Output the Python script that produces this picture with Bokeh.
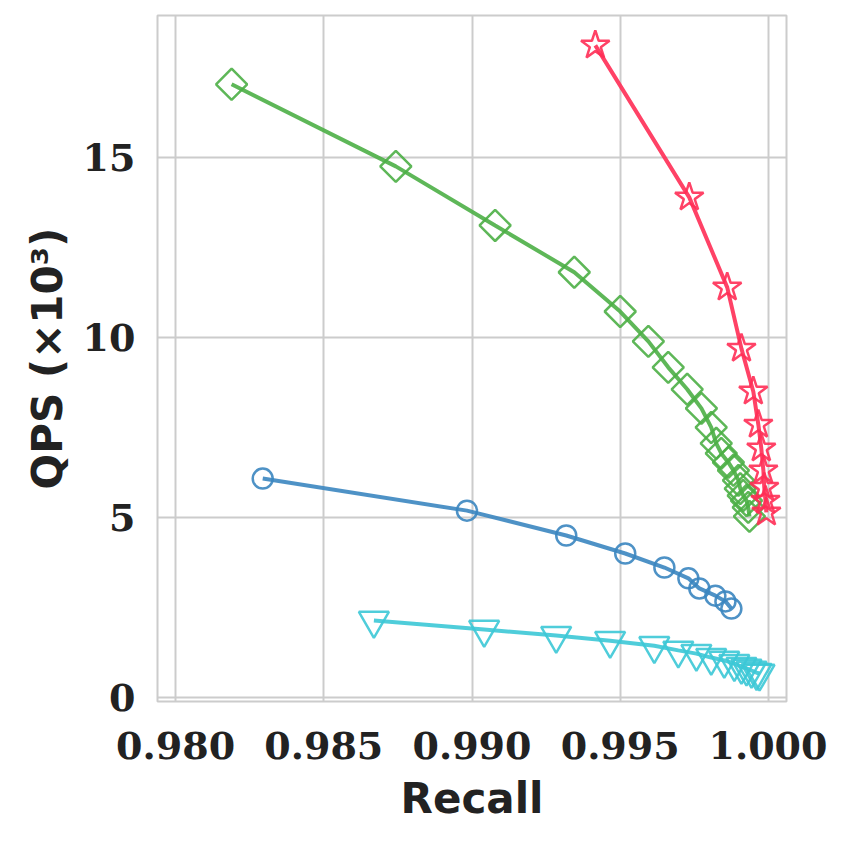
from bokeh.plotting import figure
from bokeh.models import FixedTicker, NumeralTickFormatter
from bokeh.embed import file_html
from bokeh.resources import INLINE

# recall / QPS (thousands)
star_recall = [0.99416, 0.99733, 0.99861, 0.99909, 0.99949, 0.99966, 0.99976, 0.99983, 0.99986, 0.99990, 0.99993]
star_qps = [18.11, 13.89, 11.39, 9.69, 8.50, 7.58, 6.92, 6.31, 5.83, 5.47, 5.14]

diamond_recall = [0.98189, 0.98743, 0.99078, 0.99345, 0.99500, 0.99595, 0.99662, 0.99726, 0.99774, 0.99807,
                  0.99824, 0.99841, 0.99865, 0.99882, 0.99899, 0.99905, 0.99915, 0.99926, 0.99932, 0.99936]
diamond_qps = [17.03, 14.75, 13.11, 11.81, 10.72, 9.89, 9.17, 8.56, 8.03, 7.50,
               7.06, 6.78, 6.53, 6.31, 6.03, 5.80, 5.61, 5.47, 5.28, 5.03]

circle_recall = [0.98294, 0.98983, 0.99318, 0.99517, 0.99649, 0.99730, 0.99767, 0.99821, 0.99855, 0.99875]
circle_qps = [6.08, 5.19, 4.50, 4.00, 3.61, 3.31, 3.03, 2.83, 2.67, 2.47]

tri_recall = [0.98669, 0.99041, 0.99284, 0.99466, 0.99615, 0.99696, 0.99757, 0.99807, 0.99851,
              0.99885, 0.99909, 0.99926, 0.99943, 0.99960, 0.99970]
tri_qps = [2.14, 1.89, 1.72, 1.58, 1.44, 1.31, 1.22, 1.11, 1.03, 0.94, 0.86, 0.81, 0.75, 0.69, 0.67]

x_ticks = [0.980, 0.985, 0.990, 0.995, 1.000]
y_ticks = [0, 5, 10, 15]

p = figure(width=827, height=826, output_backend="svg", toolbar_location=None,
           x_range=(0.97939, 1.00061), y_range=(-0.11, 18.94),
           min_border_left=157, min_border_right=41, min_border_top=15, min_border_bottom=125)

p.background_fill_color = "white"
p.outline_line_color = "#cccccc"
p.outline_line_width = 2
p.grid.grid_line_color = "#cccccc"
p.grid.grid_line_width = 2

p.xaxis.ticker = FixedTicker(ticks=x_ticks)
p.yaxis.ticker = FixedTicker(ticks=y_ticks)
p.xaxis.formatter = NumeralTickFormatter(format="0.000")
p.yaxis.formatter = NumeralTickFormatter(format="0")

for ax in (p.xaxis, p.yaxis):
    ax.axis_line_color = None
    ax.major_tick_line_color = None
    ax.minor_tick_line_color = None
    ax.major_label_text_font = "DejaVu Serif"
    ax.major_label_text_font_style = "bold"
    ax.major_label_text_font_size = "38px"
    ax.major_label_text_color = "#222222"
    ax.axis_label_text_font = "DejaVu Sans"
    ax.axis_label_text_font_style = "bold"
    ax.axis_label_text_font_size = "42px"
    ax.axis_label_text_color = "#222222"

p.xaxis.axis_label = "Recall"
p.yaxis.axis_label = "QPS (×10³)"
p.xaxis.major_label_standoff = 24
p.yaxis.major_label_standoff = 16
p.xaxis.axis_label_standoff = 12
p.yaxis.axis_label_standoff = 8

red = "#ff2d55"
green = "#4caf46"
blue = "#3b86c0"
cyan = "#3cc8d6"

p.line(tri_recall, tri_qps, line_color=cyan, line_width=4, line_alpha=0.9)
p.scatter(tri_recall, tri_qps, marker="inverted_triangle", size=30, fill_color=None,
          line_color=cyan, line_width=2.5, line_alpha=0.9)

p.line(circle_recall, circle_qps, line_color=blue, line_width=4, line_alpha=0.9)
p.scatter(circle_recall, circle_qps, marker="circle", size=20, fill_color=None,
          line_color=blue, line_width=2.5, line_alpha=0.9)

p.line(diamond_recall, diamond_qps, line_color=green, line_width=4, line_alpha=0.9)
p.scatter(diamond_recall, diamond_qps, marker="square", size=22, angle=0.785398, fill_color=None,
          line_color=green, line_width=2.5, line_alpha=0.9)

p.line(star_recall, star_qps, line_color=red, line_width=4, line_alpha=0.9)
p.scatter(star_recall, star_qps, marker="star", size=30, fill_color=None,
          line_color=red, line_width=2.5, line_alpha=0.9)

open("out.html", "w").write(file_html(p, INLINE))
